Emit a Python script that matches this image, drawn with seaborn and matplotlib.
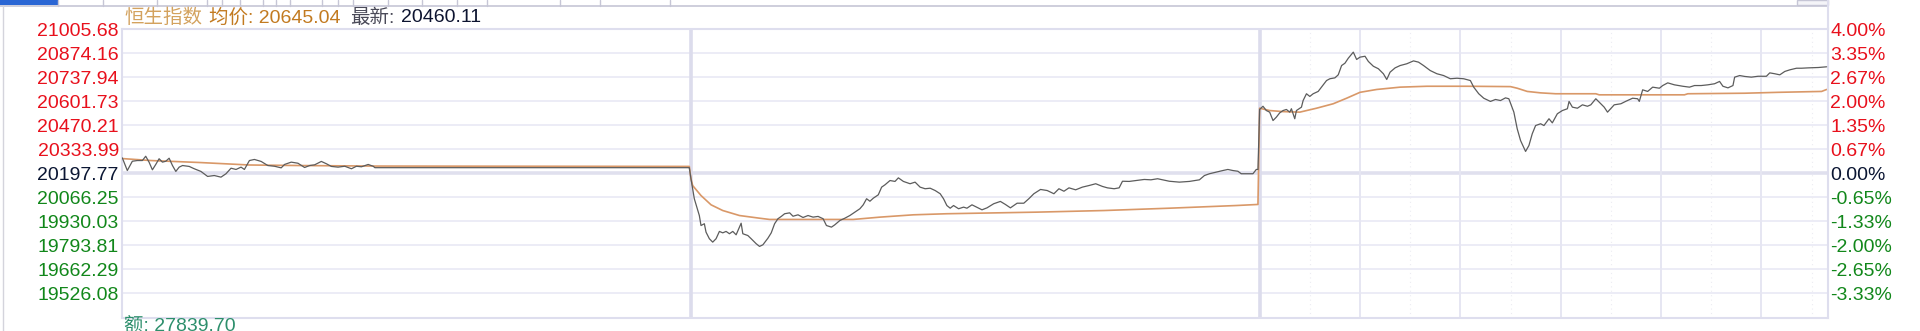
import matplotlib
matplotlib.use("Agg")
import matplotlib.pyplot as plt
from matplotlib.lines import Line2D
from matplotlib.patches import Rectangle
import numpy as np
import pandas as pd
import seaborn as sns

# ---------------- data ----------------
PREV_CLOSE = 20197.77
SESSION_MIN = 340  # 09:30-12:00 + 13:00-16:10

day1_minute = [0, 3, 6, 9, 12, 14, 16, 18, 20, 22, 24, 26, 28, 30, 32, 34, 36, 40, 43, 47,
               51, 55, 59, 62, 65, 68, 71, 73, 76, 79, 83, 87, 91, 95, 97, 101, 105, 109, 112, 115,
               119, 122, 125, 129, 133, 137, 140, 143, 147, 150, 151, 339]
day1_price = [20284, 20213, 20265, 20269, 20269, 20293, 20260, 20217, 20247, 20279,
              20260, 20265, 20282, 20241, 20208, 20232, 20241, 20236, 20223, 20208,
              20180, 20185, 20176, 20195, 20226, 20219, 20232, 20219, 20269, 20275,
              20264, 20241, 20237, 20228, 20247, 20260, 20254, 20230, 20241, 20245,
              20264, 20251, 20236, 20232, 20237, 20223, 20237, 20234, 20247, 20237,
              20229, 20229]
day1_avg_minute = [0, 17, 46, 76, 106, 151, 339]
day1_avg = [20280, 20269, 20258, 20244, 20241, 20238, 20236]

day2_minute = [340, 342, 345, 346, 348, 349, 351, 353, 355, 357,
               359, 361, 363, 365, 367, 370, 371, 374, 376, 379,
               381, 383, 386, 388, 390, 392, 394, 396, 399, 401,
               404, 407, 410, 413, 416, 419, 421, 424, 426, 429,
               432, 435, 438, 441, 443, 445, 447, 449, 452, 454,
               456, 459, 462, 464, 467, 471, 474, 477, 480, 483,
               486, 489, 491, 493, 495, 497, 500, 503, 505, 508,
               512, 514, 517, 521, 525, 528, 531, 535, 539, 542,
               545, 549, 553, 557, 560, 563, 566, 570, 574, 578,
               582, 586, 589, 593, 596, 598, 602, 606, 611, 615,
               619, 622, 626, 632, 638, 644, 647, 650, 654, 658,
               661, 664, 667, 669, 676, 678, 679]
day2_price = [20167, 20055, 19961, 19905, 19915, 19868, 19831, 19812, 19831, 19872,
              19864, 19872, 19859, 19872, 19853, 19918, 19859, 19849, 19831, 19803,
              19788, 19797, 19834, 19864, 19915, 19943, 19956, 19971, 19976, 19957,
              19965, 19950, 19961, 19952, 19956, 19943, 19905, 19896, 19909, 19933,
              19946, 19961, 19980, 19999, 20021, 20055, 20041, 20058, 20077, 20120,
              20133, 20157, 20152, 20172, 20152, 20139, 20148, 20120, 20111, 20114,
              20101, 20083, 20055, 20017, 20002, 20017, 19999, 20008, 20002, 20021,
              20002, 19993, 20004, 20027, 20040, 20023, 20004, 20030, 20030, 20055,
              20083, 20107, 20101, 20083, 20111, 20097, 20116, 20105, 20120, 20129,
              20139, 20124, 20116, 20111, 20116, 20153, 20152, 20157, 20163, 20161,
              20167, 20161, 20153, 20148, 20152, 20161, 20185, 20195, 20204, 20213,
              20219, 20213, 20209, 20195, 20195, 20219, 20219]
day2_avg_minute = [340, 341, 346, 352, 359, 369, 381, 387, 437, 453, 473, 493, 547, 587, 626, 666, 679]
day2_avg = [20167, 20129, 20073, 20021, 19989, 19961, 19946, 19939, 19939, 19952,
            19965, 19971, 19980, 19989, 20002, 20017, 20023]

day3_minute = [680, 682, 684, 686, 688, 690, 692, 694, 696, 698,
               699, 701, 702, 705, 706, 708, 710, 712, 715, 717,
               720, 722, 725, 727, 729, 731, 733, 736, 738, 740,
               743, 745, 748, 751, 754, 756, 758, 761, 764, 768,
               772, 775, 778, 782, 786, 790, 794, 798, 802, 806,
               808, 811, 814, 818, 821, 824, 827, 829, 832, 834,
               836, 839, 841, 843, 845, 848, 850, 853, 855, 858,
               861, 864, 865, 867, 870, 873, 876, 878, 881, 884,
               886, 888, 892, 896, 899, 903, 906, 907, 909, 912,
               915, 919, 921, 924, 928, 933, 937, 940, 944, 948,
               952, 955, 957, 960, 963, 964, 967, 970, 974, 978,
               983, 985, 988, 991, 994, 997, 1001, 1004, 1008, 1014,
               1019]
day3_price = [20555, 20573, 20549, 20540, 20493, 20512, 20536, 20549, 20555, 20540,
              20559, 20503, 20549, 20568, 20605, 20643, 20628, 20643, 20656, 20680,
              20717, 20727, 20732, 20749, 20801, 20814, 20842, 20876, 20835, 20848,
              20853, 20824, 20797, 20783, 20755, 20723, 20764, 20788, 20801, 20811,
              20827, 20820, 20801, 20773, 20755, 20745, 20727, 20730, 20727, 20717,
              20680, 20643, 20618, 20600, 20611, 20605, 20620, 20615, 20540, 20447,
              20381, 20320, 20353, 20419, 20465, 20475, 20465, 20503, 20480, 20531,
              20549, 20559, 20600, 20568, 20562, 20581, 20573, 20581, 20615, 20587,
              20568, 20540, 20581, 20587, 20601, 20618, 20615, 20600, 20665, 20656,
              20680, 20674, 20689, 20704, 20693, 20685, 20680, 20689, 20689, 20693,
              20699, 20712, 20685, 20676, 20689, 20736, 20745, 20740, 20736, 20741,
              20741, 20760, 20755, 20749, 20768, 20777, 20786, 20786, 20788, 20790,
              20794]
day3_avg_minute = [680, 686, 694, 704, 714, 724, 732, 740, 750, 764, 780, 804, 830, 834, 840,
                   848, 857, 881, 883, 934, 936, 970, 990, 1016, 1019]
day3_avg = [20562, 20549, 20543, 20540, 20562, 20587, 20618, 20651, 20667, 20680, 20685, 20685,
            20683, 20674, 20656, 20648, 20643, 20643, 20637, 20637, 20643, 20646, 20651, 20656, 20667]

left_tick_labels = ["21005.68", "20874.16", "20737.94", "20601.73", "20470.21", "20333.99",
                    "20197.77", "20066.25", "19930.03", "19793.81", "19662.29", "19526.08"]
right_tick_labels = ["4.00%", "3.35%", "2.67%", "2.00%", "1.35%", "0.67%",
                     "0.00%", "-0.65%", "-1.33%", "-2.00%", "-2.65%", "-3.33%"]

title_name = "恒生指数"
title_avg = "均价: 20645.04"
title_last_lbl = "最新:"
title_last_val = "20460.11"
footer_text = "额: 27839.70"

# ---------------- frames ----------------
price_df = pd.DataFrame({"minute": day1_minute + day2_minute + day3_minute,
                         "price": day1_price + day2_price + day3_price})
avg_df = pd.DataFrame({"minute": day1_avg_minute + day2_avg_minute + day3_avg_minute,
                       "price": day1_avg + day2_avg + day3_avg})

# ---------------- style ----------------
sns.set_theme(style="white")
plt.rcParams["font.family"] = ["Liberation Sans", "Noto Sans CJK SC", "DejaVu Sans"]

W, H = 1920, 331
L, R, T, B = 122.3, 1828.3, 29.0, 317.5
fig = plt.figure(figsize=(W / 100, H / 100), dpi=100, facecolor="white")
ax = fig.add_axes([L / W, 1 - B / H, (R - L) / W, (B - T) / H])
ax.set_facecolor("white")

grid_pct = np.linspace(4, -4, 13)
grid_price = PREV_CLOSE * (1 + grid_pct / 100)
ymin, ymax = grid_price[-1], grid_price[0]

for i, gp in enumerate(grid_price[1:-1], start=1):
    if abs(grid_pct[i]) < 1e-9:
        ax.axhline(gp, color="#e0e0ee", lw=2.6, zorder=1)
    else:
        ax.axhline(gp, color="#ececf6", lw=1.4, zorder=1)

# session separators and hourly lines on the last session
for d in (1, 2):
    ax.axvline(d * SESSION_MIN, color="#dcdcec", lw=2.6, zorder=1)
for k in range(1, 6):
    ax.axvline(2 * SESSION_MIN + 60 * k, color="#e6e6f2", lw=1.4, zorder=1)
for k in range(6):
    ax.axvline(2 * SESSION_MIN + 30 + 60 * k, color="#ececf2", lw=0.8,
               ls=(0, (1, 3)), zorder=1)

sns.lineplot(data=price_df, x="minute", y="price", color="#5c5c5c", linewidth=0.9,
             estimator=None, ax=ax, zorder=3)
sns.lineplot(data=avg_df, x="minute", y="price", color="#d99868", linewidth=1.2,
             estimator=None, ax=ax, zorder=2)

ax.set_xlim(0, 3 * SESSION_MIN)
ax.set_ylim(ymin, ymax)
ax.set_xlabel("")
ax.set_ylabel("")
ax.set_xticks([])
for s in ax.spines.values():
    s.set_color("#dedeee")
    s.set_linewidth(1.5)

def label_color(i):
    if i < 6:
        return "#e8101c"
    if i == 6:
        return "#0b1633"
    return "#11871a"

ax.set_yticks(grid_price[:-1])
ax.set_yticklabels(left_tick_labels)
ax.tick_params(axis="y", length=0, pad=2.5, labelsize=14)
for i, t in enumerate(ax.get_yticklabels()):
    t.set_color(label_color(i))

ax2 = ax.twinx()
ax2.set_ylim(ymin, ymax)
ax2.set_yticks(grid_price[:-1])
ax2.set_yticklabels(right_tick_labels)
ax2.tick_params(axis="y", length=0, pad=1.5, labelsize=14)
ax2.grid(False)
for s in ax2.spines.values():
    s.set_visible(False)
for i, t in enumerate(ax2.get_yticklabels()):
    t.set_color(label_color(i))

# ---------------- header / footer ----------------
ty = 1 - 17.5 / H
fig.text(124 / W, ty, title_name, color="#d3a25e", fontsize=14, va="center")
fig.text(209 / W, ty, title_avg, color="#c27a20", fontsize=14, va="center")
fig.text(350.5 / W, ty, title_last_lbl, color="#4a4a58", fontsize=14, va="center")
fig.text(401.5 / W, ty, title_last_val, color="#0d1430", fontsize=14, va="center")
fig.text(124 / W, 1 - 318.5 / H, footer_text, color="#2d8f6c", fontsize=14, va="top")

# top tab strip
fig.add_artist(Line2D([0, R / W], [1 - 5.5 / H] * 2, color="#c6c6d6", lw=1.2))
fig.add_artist(Rectangle((0, 1 - 5 / H), 58 / W, 5 / H, color="#2a66d4", lw=0))
for sx in [58, 103, 157, 207, 222, 240, 263, 276, 290, 322, 338, 353, 388, 422, 457, 487, 560, 600, 670]:
    fig.add_artist(Line2D([sx / W] * 2, [1, 1 - 5.5 / H], color="#c6c6d6", lw=1.0))
fig.add_artist(Rectangle((1797 / W, 1 - 5 / H), 31 / W, 5 / H, facecolor="#f4f4f8",
                         edgecolor="#c6c6d6", lw=1.0))
fig.add_artist(Line2D([R / W] * 2, [1, 1 - T / H], color="#dedeee", lw=1.5))
fig.add_artist(Line2D([3 / W] * 2, [1 - 6 / H, 0], color="#d4d4dc", lw=1.0))

fig.savefig("out.png", dpi=100, facecolor="white")
